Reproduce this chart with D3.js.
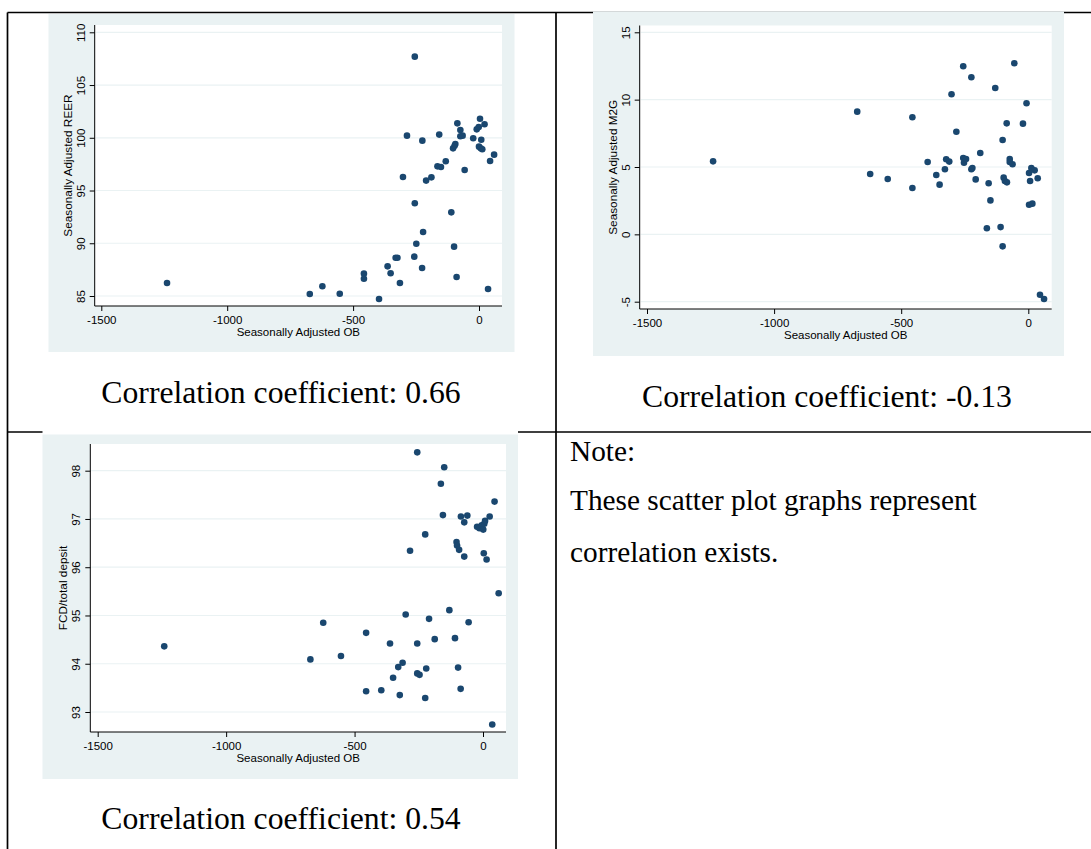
<!DOCTYPE html>
<html>
<head>
<meta charset="utf-8">
<script src="https://cdn.jsdelivr.net/npm/d3@7"></script>
<style>
  html, body { margin: 0; padding: 0; background: #ffffff; }
  svg { display: block; }
</style>
</head>
<body>
<svg id="page" width="1091" height="849"></svg>
<script>
// Seasonally adjusted OB against REER
const reerOB = [-1239,-672,-622,-553,-457,-457,-397,-363,-351,-331,-324,-314,-302,-286,-257,-255,-255,-249,-226,-225,-222,-210,-189,-165,-158,-151,-132,-110,-103,-99,-97,-94,-89,-86,-74,-74,-65,-57,-23,-9,-1,0,4,7,9,13,22,36,44,60];
const reerVal = [86.23,85.19,85.92,85.22,87.12,86.64,84.72,87.81,87.15,88.63,88.63,86.23,96.28,100.2,88.73,107.69,93.79,89.96,87.65,99.73,91.07,95.94,96.25,97.29,100.30,97.23,97.77,92.93,99.0,89.68,99.25,99.41,86.80,101.37,100.74,100.14,100.20,96.95,99.95,100.80,101.02,99.16,101.81,99.0,99.82,98.91,101.28,85.66,97.80,98.40];

// Seasonally adjusted OB against M2G
const m2gOB = [-1240,-673,-622,-553,-456,-456,-396,-362,-349,-328,-323,-311,-302,-283,-256,-256,-253,-245,-224,-224,-220,-207,-189,-163,-156,-149,-130,-109,-101,-101,-97,-92,-85,-84,-73,-73,-62,-55,-21,-7,3,3,7,12,16,25,37,46,62];
const m2gVal = [5.42,9.11,4.48,4.11,8.69,3.44,5.37,4.41,3.69,4.83,5.57,5.40,10.40,7.62,12.48,5.67,5.32,5.59,11.66,4.83,4.93,4.08,6.04,0.45,3.79,2.52,10.87,0.54,7.0,-0.89,4.21,3.96,8.24,3.86,5.59,5.37,5.20,12.70,8.22,9.73,4.55,2.2,3.96,4.93,2.28,4.75,4.16,-4.48,-4.80];

// Seasonally adjusted OB against FCD / total deposit
const fcdOB = [-1241,-672,-622,-553,-455,-455,-396,-362,-350,-330,-324,-313,-301,-284,-256,-256,-256,-247,-225,-225,-221,-210,-188,-164,-156,-151,-131,-109,-103,-101,-97,-93,-87,-86,-73,-73,-61,-56,-23,-14,-5,1,3,5,8,14,26,36,45,61];
const fcdVal = [94.36,94.09,94.85,94.16,94.64,93.43,93.45,94.42,93.71,93.93,93.35,94.02,95.02,96.34,98.38,94.42,93.80,93.77,96.68,93.29,93.90,94.93,94.51,97.73,97.08,98.07,95.11,94.53,96.52,96.45,93.92,96.36,93.48,97.05,96.93,96.22,97.07,94.86,96.84,96.81,96.87,96.78,96.29,96.90,96.96,96.16,97.05,92.74,97.36,95.46];

// Axis ticks and titles
const obTicks = [-1500, -1000, -500, 0];
const reerTicks = [85, 90, 95, 100, 105, 110];
const m2gTicks = [-5, 0, 5, 10, 15];
const fcdTicks = [93, 94, 95, 96, 97, 98];
const xTitle = "Seasonally Adjusted OB";
const yTitles = ["Seasonally Adjusted REER", "Seasonally Adjusted M2G", "FCD/total depsit"];

// Texts in the table cells
const captions = ["Correlation coefficient: 0.66", "Correlation coefficient: -0.13", "Correlation coefficient: 0.54"];
const noteLines = ["Note:", "These scatter plot graphs represent", "correlation exists."];

const svg = d3.select("#page");

const BG = "#eaf2f3";
const MARK = "#1a476f";
const SANS = "'Liberation Sans', Arial, sans-serif";
const SERIF = "'Liberation Serif', 'Times New Roman', serif";

// ---- table rules ----
const rules = svg.append("g").attr("stroke", "#000").attr("stroke-width", 1.7);
rules.append("line").attr("x1", 7.5).attr("x2", 1091).attr("y1", 12.5).attr("y2", 12.5);
rules.append("line").attr("x1", 7.5).attr("x2", 1091).attr("y1", 432).attr("y2", 432);
rules.append("line").attr("x1", 7.5).attr("x2", 7.5).attr("y1", 12.5).attr("y2", 849);
rules.append("line").attr("x1", 556).attr("x2", 556).attr("y1", 12.5).attr("y2", 849);

// ---- scatter panels ----
const panels = [
  { ob: reerOB, val: reerVal, yTicks: reerTicks, yDom: [85, 110], title: yTitles[0],
    bg: [48.5, 14, 514.5, 352], plot: [94.7, 25, 502, 306],
    xr: [101.3, 479], yr: [296, 32.3], cover: null },
  { ob: m2gOB, val: m2gVal, yTicks: m2gTicks, yDom: [-5, 15], title: yTitles[1],
    bg: [593, 11.5, 1064, 356], plot: [639.7, 25.5, 1051.7, 309],
    xr: [647, 1028.3], yr: [301.7, 32.3], cover: null },
  { ob: fcdOB, val: fcdVal, yTicks: fcdTicks, yDom: [93, 98], title: yTitles[2],
    bg: [42.5, 434.5, 518, 779], plot: [90.3, 444, 506, 732],
    xr: [97.7, 483], yr: [712, 470.7], cover: [42.5, 429, 518, 434.5] }
];

panels.forEach(p => {
  const g = svg.append("g");
  const [bx0, by0, bx1, by1] = p.bg;
  const [pl, pt, pr, pb] = p.plot;

  if (p.cover) {
    g.append("rect").attr("x", p.cover[0]).attr("y", p.cover[1])
      .attr("width", p.cover[2] - p.cover[0]).attr("height", p.cover[3] - p.cover[1])
      .attr("fill", "#fff");
  }
  g.append("rect").attr("x", bx0).attr("y", by0)
    .attr("width", bx1 - bx0).attr("height", by1 - by0).attr("fill", BG);
  g.append("rect").attr("x", pl).attr("y", pt)
    .attr("width", pr - pl).attr("height", pb - pt).attr("fill", "#fff");

  const x = d3.scaleLinear().domain([-1500, 0]).range(p.xr);
  const y = d3.scaleLinear().domain(p.yDom).range(p.yr);

  // horizontal grid lines
  g.append("g").selectAll("line").data(p.yTicks).join("line")
    .attr("x1", pl + 1).attr("x2", pr)
    .attr("y1", d => y(d)).attr("y2", d => y(d))
    .attr("stroke", BG).attr("stroke-width", 1.2);

  // x axis
  const xAxis = g.append("g").attr("transform", `translate(0,${pb})`)
    .call(d3.axisBottom(x).tickValues(obTicks).tickSize(5).tickSizeOuter(0).tickPadding(3)
      .tickFormat(d3.format("d")));
  xAxis.select(".domain").attr("d", `M${pl},0H${pr}`).attr("stroke", "#000");
  xAxis.selectAll(".tick line").attr("stroke", "#000");
  xAxis.selectAll(".tick text").attr("font-family", SANS).attr("font-size", 11.5)
    .attr("fill", "#000").attr("dy", null).attr("y", 18).attr("text-anchor", "middle")
    .text(d => d3.format("d")(d).replace("−", "-"));

  // y axis
  const yAxis = g.append("g").attr("transform", `translate(${pl},0)`)
    .call(d3.axisLeft(y).tickValues(p.yTicks).tickSize(5).tickSizeOuter(0)
      .tickFormat(d3.format("d")));
  yAxis.select(".domain").attr("d", `M0,${pt}V${pb}`).attr("stroke", "#000");
  yAxis.selectAll(".tick line").attr("stroke", "#000");
  yAxis.selectAll(".tick text")
    .attr("x", null).attr("dy", null)
    .attr("font-family", SANS).attr("font-size", 11.5).attr("fill", "#000")
    .attr("text-anchor", "middle")
    .attr("transform", "translate(-10,0) rotate(-90)")
    .text(d => d3.format("d")(d).replace("−", "-"));

  // axis titles
  g.append("text").attr("x", (pl + pr) / 2).attr("y", pb + 30)
    .attr("text-anchor", "middle").attr("font-family", SANS).attr("font-size", 11.5)
    .attr("fill", "#000").text(xTitle);
  g.append("text")
    .attr("transform", `translate(${pl - 23},${(pt + pb) / 2}) rotate(-90)`)
    .attr("text-anchor", "middle").attr("font-family", SANS).attr("font-size", 11.8)
    .attr("fill", "#000").text(p.title);

  // markers
  g.append("g").selectAll("circle").data(p.ob.map((v, i) => [v, p.val[i]])).join("circle")
    .attr("cx", d => x(d[0])).attr("cy", d => y(d[1]))
    .attr("r", 3.3).attr("fill", MARK);
});

// ---- captions and note ----
const capPos = [[281, 403], [827, 407], [281, 829]];
captions.forEach((c, i) => {
  svg.append("text").attr("x", capPos[i][0]).attr("y", capPos[i][1])
    .attr("text-anchor", "middle").attr("font-family", SERIF).attr("font-size", 31.7)
    .attr("fill", "#000").text(c);
});

const noteBase = [461, 510, 562];
noteLines.forEach((t, i) => {
  svg.append("text").attr("x", 570).attr("y", noteBase[i])
    .attr("font-family", SERIF).attr("font-size", 29.3)
    .attr("fill", "#000").text(t);
});
</script>
</body>
</html>
